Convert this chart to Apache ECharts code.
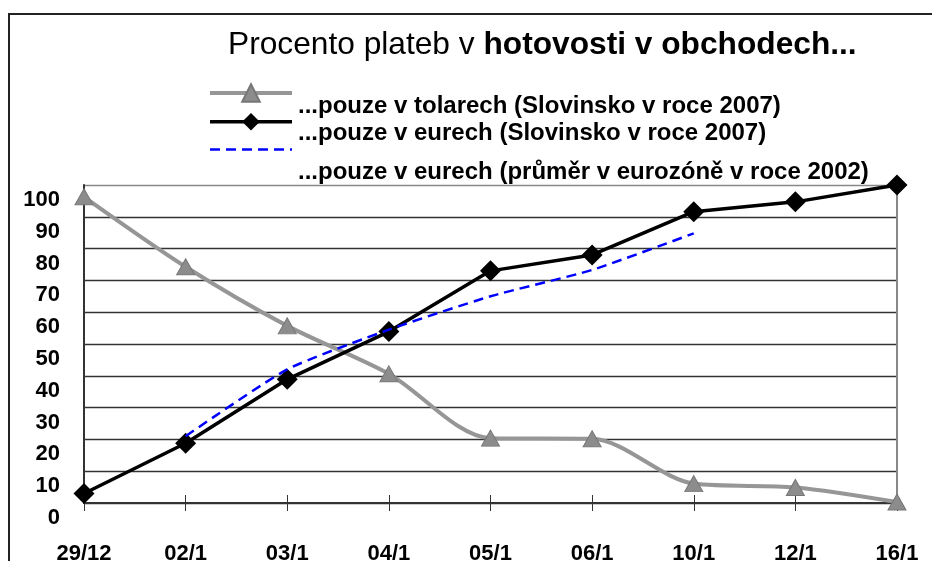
<!DOCTYPE html>
<html>
<head>
<meta charset="utf-8">
<script src="https://cdn.jsdelivr.net/npm/echarts@6/dist/echarts.min.js"></script>
<style>html,body{margin:0;padding:0;background:#fff}#c{width:932px;height:561px}</style>
</head>
<body>
<div id="c"></div>
<script>
const categories = ['29/12','02/1','03/1','04/1','05/1','06/1','10/1','12/1','16/1'];
const tolarValues = [96.3, 74.3, 55.7, 40.6, 20.4, 20.2, 6.1, 4.9, 0.3];
const euroValues = [3.0, 18.8, 38.9, 53.9, 73.0, 78.0, 91.6, 94.7, 100];
const eurozoneValues = [null, 21, 42, 54.5, 65, 73.3, 84.8, null, null];
const seriesNames = [
  '...pouze v tolarech (Slovinsko v roce 2007)',
  '...pouze v eurech (Slovinsko v roce 2007)',
  '...pouze v eurech (průměr v eurozóně v roce 2002)'
];

const FONT = 'Liberation Sans, Arial, sans-serif';
const gridRect = {left: 84, right: 35, top: 185, bottom: 58, containLabel: false, outerBoundsMode: 'none'};
const splitColors = ['#333','#333','#333','#333','#333','#333','#333','#333','#333','#333','#888'];

const legendTextStyle = {fontFamily: FONT, fontSize: 24, fontWeight: 'bold', color: '#000'};
function textLegend(name, top) {
  return {
    orient: 'horizontal', left: 293, top: top, padding: 0,
    itemWidth: 0, itemHeight: 0, selectedMode: false,
    itemStyle: {color: 'rgba(0,0,0,0)', borderWidth: 0},
    lineStyle: {width: 0, color: 'rgba(0,0,0,0)'},
    textStyle: legendTextStyle,
    data: [name]
  };
}

const chart = echarts.init(document.getElementById('c'), null, {renderer: 'canvas'});
chart.setOption({
  animation: false,
  backgroundColor: '#fff',
  title: {
    left: 228, top: 29, padding: 0,
    text: '{a|Procento plateb v }{b|hotovosti v obchodech...}',
    textStyle: {
      fontWeight: 'normal',
      rich: {
        a: {fontFamily: FONT, fontSize: 31.7, fontWeight: 'normal', color: '#000'},
        b: {fontFamily: FONT, fontSize: 31.7, fontWeight: 'bold', color: '#000'}
      }
    }
  },
  graphic: [{
    type: 'rect', silent: true, z: -1,
    shape: {x: 9, y: 14, width: 960, height: 600},
    style: {fill: 'none', stroke: '#222', lineWidth: 2}
  }],
  legend: [
    {
      orient: 'vertical', left: 208, top: 82, padding: 0,
      itemWidth: 82, itemHeight: 22, itemGap: 8, selectedMode: false,
      lineStyle: {width: 'inherit'},
      formatter: function () { return ''; },
      textStyle: {fontSize: 1},
      data: [
        {name: seriesNames[0]},
        {name: seriesNames[1]},
        {name: seriesNames[2], itemStyle: {color: 'rgba(0,0,0,0)', borderWidth: 0, opacity: 0}}
      ]
    },
    textLegend(seriesNames[0], 94),
    textLegend(seriesNames[1], 121),
    textLegend(seriesNames[2], 160)
  ],
  grid: [Object.assign({}, gridRect), Object.assign({}, gridRect)],
  xAxis: [{
    type: 'category', gridIndex: 0, data: categories, boundaryGap: false,
    axisLine: {lineStyle: {color: '#333', width: 2}},
    axisTick: {show: true, length: 8, lineStyle: {color: '#333', width: 1}},
    axisLabel: {margin: 40, fontFamily: FONT, fontSize: 22, fontWeight: 'bold', color: '#000'},
    splitLine: {show: false}
  }, {
    type: 'category', gridIndex: 1, data: categories, boundaryGap: false,
    axisLine: {show: false},
    axisTick: {show: true, inside: true, length: 8, lineStyle: {color: '#333', width: 1}},
    axisLabel: {show: false},
    splitLine: {show: false}
  }],
  yAxis: [{
    type: 'value', gridIndex: 0, min: 0, max: 100, interval: 10, position: 'left',
    axisLine: {show: true, lineStyle: {color: '#333', width: 2}},
    axisTick: {show: false},
    axisLabel: {margin: 24, fontFamily: FONT, fontSize: 22, fontWeight: 'bold', color: '#000',
      verticalAlign: 'top', padding: [4, 0, 0, 0]},
    splitLine: {show: true, lineStyle: {color: splitColors, width: 1.3}}
  }, {
    type: 'value', gridIndex: 0, min: 0, max: 100, interval: 10, position: 'right',
    axisLine: {show: true, lineStyle: {color: '#888', width: 2}},
    axisTick: {show: false}, axisLabel: {show: false}, splitLine: {show: false}
  }, {
    type: 'value', gridIndex: 1, min: 0, max: 100, show: false
  }],
  series: [{
    name: seriesNames[0], type: 'line', data: tolarValues, smooth: 0.3,
    symbol: 'triangle', symbolSize: [18, 16],
    lineStyle: {color: '#969696', width: 4},
    itemStyle: {color: '#8c8c8c', borderColor: '#777', borderWidth: 1},
    z: 2
  }, {
    name: seriesNames[1], type: 'line', data: euroValues,
    symbol: 'diamond', symbolSize: 21,
    lineStyle: {color: '#000', width: 3.5},
    itemStyle: {color: '#000'},
    z: 3
  }, {
    name: seriesNames[2], type: 'line', data: eurozoneValues, smooth: 0.2,
    symbol: 'none', connectNulls: false,
    lineStyle: {color: '#0000ff', width: 2.5, type: [10, 6]},
    itemStyle: {color: '#0000ff'},
    z: 4
  }]
});
</script>
</body>
</html>
